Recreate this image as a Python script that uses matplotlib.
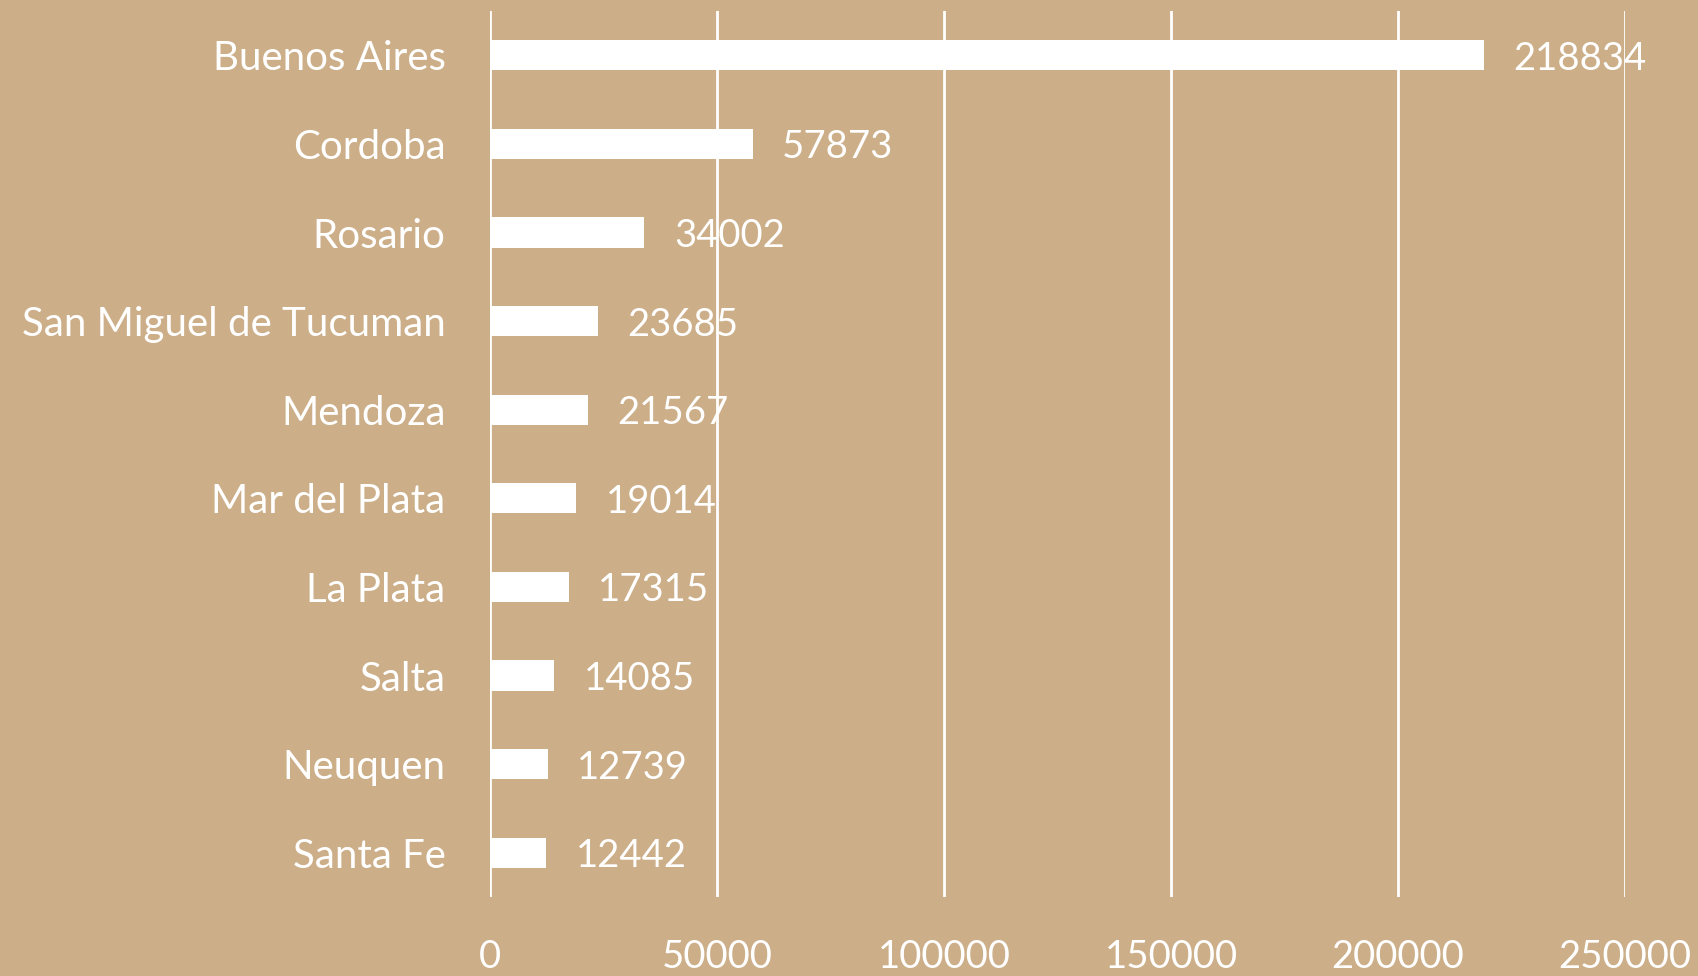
import matplotlib.pyplot as plt
import numpy as np

cities = ["Buenos Aires", "Cordoba", "Rosario", "San Miguel de Tucuman", "Mendoza",
          "Mar del Plata", "La Plata", "Salta", "Neuquen", "Santa Fe"]
population = [218834, 57873, 34002, 23685, 21567, 19014, 17315, 14085, 12739, 12442]
xticks = [0, 50000, 100000, 150000, 200000, 250000]

bg = "#CCAE88"
plt.rcParams['font.family'] = ['Lato', 'DejaVu Sans']

fig = plt.figure(figsize=(16.99, 9.76), dpi=100, facecolor=bg)
ax = fig.add_axes([0.2884, 0.0809, 0.9565 - 0.2884, 0.9887 - 0.0809])
ax.set_facecolor(bg)

y = np.arange(len(cities))
ax.barh(y, population, height=0.34, color="white", zorder=3)

for yi, v in zip(y, population):
    ax.text(v + 6500, yi, str(v), va="center_baseline", ha="left", color="white",
            fontsize=27.5, zorder=4)

ax.set_xlim(0, 250000)
ax.set_ylim(len(cities) - 0.5, -0.5)
ax.set_xticks(xticks)
ax.set_xticklabels([str(t) for t in xticks], fontsize=27.5)
ax.set_yticks(y)
ax.set_yticklabels(cities, fontsize=29)
ax.tick_params(axis="both", length=0, colors="white")
ax.tick_params(axis="y", pad=32)
ax.tick_params(axis="x", pad=30)
ax.grid(axis="x", color="white", linewidth=2, zorder=1)
for s in ax.spines.values():
    s.set_visible(False)

fig.savefig("out.png", dpi=100, facecolor=bg)
